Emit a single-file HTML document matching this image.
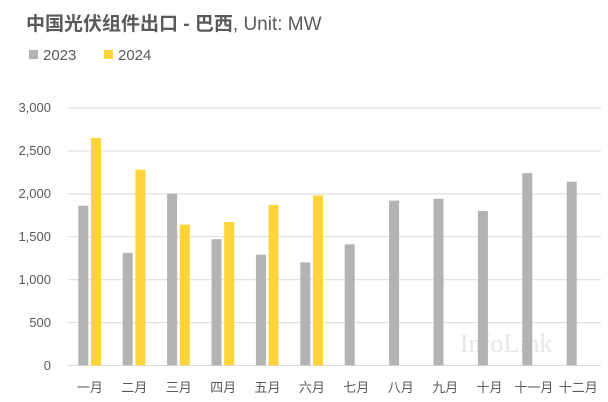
<!DOCTYPE html>
<html><head><meta charset="utf-8"><style>
html,body{margin:0;padding:0;background:#fff;width:608px;height:402px;overflow:hidden}
svg{display:block;font-family:"Liberation Sans","Noto Sans CJK SC",sans-serif}
</style></head><body>
<svg width="608" height="402" xmlns="http://www.w3.org/2000/svg">
<text x="26" y="30" font-size="19" font-weight="bold" fill="#595959">中国光伏组件出口 - 巴西<tspan font-weight="normal">, Unit: MW</tspan></text>
<rect x="29" y="50" width="9" height="9" fill="#b3b3b3"/>
<text x="43" y="60" font-size="15" fill="#595959">2023</text>
<rect x="104" y="50" width="9" height="9" fill="#ffd43b"/>
<text x="118" y="60" font-size="15" fill="#595959">2024</text>
<g stroke="#d9d9d9" stroke-width="1">
<line x1="67.7" x2="601" y1="108" y2="108"/>
<line x1="67.7" x2="601" y1="151" y2="151"/>
<line x1="67.7" x2="601" y1="193.9" y2="193.9"/>
<line x1="67.7" x2="601" y1="236.8" y2="236.8"/>
<line x1="67.7" x2="601" y1="279.7" y2="279.7"/>
<line x1="67.7" x2="601" y1="322.6" y2="322.6"/>
<line x1="67.7" x2="601" y1="365.5" y2="365.5"/>
</g>
<g font-size="13" fill="#595959" text-anchor="end">
<text x="51" y="112">3,000</text><text x="51" y="155">2,500</text><text x="51" y="198">2,000</text>
<text x="51" y="241">1,500</text><text x="51" y="284">1,000</text><text x="51" y="327">500</text><text x="51" y="370">0</text>
</g>
<text x="460" y="352" font-size="26" font-family="Liberation Serif,serif" fill="#e6e6e6">InfoLink</text>
<g fill="#b3b3b3">
<rect x="78.3" y="205.7" width="10" height="159.6"/>
<rect x="122.7" y="252.9" width="10" height="112.4"/>
<rect x="167.1" y="193.7" width="10" height="171.6"/>
<rect x="211.5" y="239.2" width="10" height="126.1"/>
<rect x="255.9" y="254.6" width="10" height="110.7"/>
<rect x="300.3" y="262.3" width="10" height="103"/>
<rect x="344.7" y="244.3" width="10" height="121"/>
<rect x="389.1" y="200.6" width="10" height="164.7"/>
<rect x="433.5" y="198.8" width="10" height="166.5"/>
<rect x="477.9" y="210.9" width="10" height="154.4"/>
<rect x="522.3" y="173.1" width="10" height="192.2"/>
<rect x="566.7" y="181.7" width="10" height="183.6"/>
</g>
<g fill="#ffd43b">
<rect x="91" y="137.9" width="10" height="227.4"/>
<rect x="135.4" y="169.7" width="10" height="195.6"/>
<rect x="179.8" y="224.6" width="10" height="140.7"/>
<rect x="224.2" y="222" width="10" height="143.3"/>
<rect x="268.6" y="204.9" width="10" height="160.4"/>
<rect x="313" y="195.4" width="10" height="169.9"/>
</g>
<g font-size="13" fill="#595959" text-anchor="middle">
<text x="89.9" y="392">一月</text><text x="134.3" y="392">二月</text><text x="178.7" y="392">三月</text>
<text x="223.1" y="392">四月</text><text x="267.5" y="392">五月</text><text x="311.9" y="392">六月</text>
<text x="356.3" y="392">七月</text><text x="400.7" y="392">八月</text><text x="445.1" y="392">九月</text>
<text x="489.5" y="392">十月</text><text x="533.9" y="392">十一月</text><text x="578.3" y="392">十二月</text>
</g>
</svg>
</body></html>
